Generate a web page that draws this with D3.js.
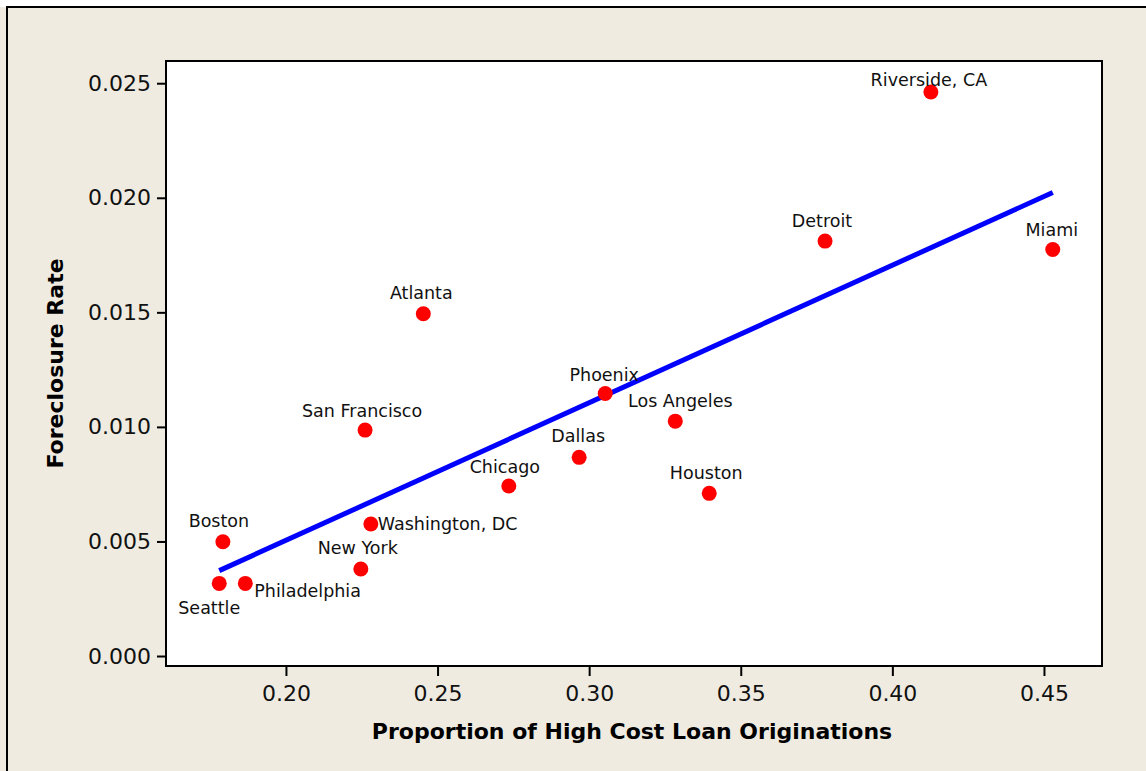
<!DOCTYPE html>
<html>
<head>
<meta charset="utf-8">
<script src="https://cdn.jsdelivr.net/npm/d3@7"></script>
<style>
  body { margin: 0; background: #ffffff; }
  svg { display: block; }
</style>
</head>
<body>
<svg id="chart" width="1146" height="771"></svg>
<script>
// Metro areas and their values
const cities = [
  "Riverside, CA", "Miami", "Detroit", "Atlanta", "Phoenix",
  "Los Angeles", "San Francisco", "Dallas", "Chicago", "Houston",
  "Washington, DC", "Boston", "New York", "Seattle", "Philadelphia"
];
const highCostShare = [
  0.4127, 0.4529, 0.3778, 0.2453, 0.3053,
  0.3284, 0.2261, 0.2967, 0.2735, 0.3396,
  0.2280, 0.1792, 0.2247, 0.1780, 0.1866
];
const foreclosureRate = [
  0.02462, 0.01774, 0.01811, 0.01494, 0.01146,
  0.01025, 0.00986, 0.00867, 0.00742, 0.00710,
  0.00576, 0.00499, 0.00380, 0.00317, 0.00317
];

const xTicks = [0.20, 0.25, 0.30, 0.35, 0.40, 0.45];
const yTicks = [0.000, 0.005, 0.010, 0.015, 0.020, 0.025];
const xTitle = "Proportion of High Cost Loan Originations";
const yTitle = "Foreclosure Rate";

// Axis extents of the data region
const xDomain = [0.16044, 0.46914];
const yDomain = [-0.000436, 0.02597];

// Where each point label sits relative to its dot
const labelPlacement = {
  "Riverside, CA":  { dx: -2, dy: -6,  anchor: "middle" },
  "Miami":          { dx: -1, dy: -14, anchor: "middle" },
  "Detroit":        { dx: -3, dy: -14, anchor: "middle" },
  "Atlanta":        { dx: -2, dy: -15, anchor: "middle" },
  "Phoenix":        { dx: -1, dy: -12, anchor: "middle" },
  "Los Angeles":    { dx: 5,  dy: -14, anchor: "middle" },
  "San Francisco":  { dx: -3, dy: -13, anchor: "middle" },
  "Dallas":         { dx: -1, dy: -15, anchor: "middle" },
  "Chicago":        { dx: -4, dy: -13, anchor: "middle" },
  "Houston":        { dx: -3, dy: -14, anchor: "middle" },
  "Washington, DC": { dx: 7,  dy: 6,   anchor: "start" },
  "Boston":         { dx: -4, dy: -15, anchor: "middle" },
  "New York":       { dx: -3, dy: -15, anchor: "middle" },
  "Seattle":        { dx: -10, dy: 31, anchor: "middle" },
  "Philadelphia":   { dx: 9,  dy: 14,  anchor: "start" }
};

const W = 1146, H = 771;
const plot = { left: 166, right: 1102, top: 61, bottom: 666 };
const bgColor = "#efebe1";
const font = "'DejaVu Sans', Verdana, sans-serif";

const svg = d3.select("#chart");

// Panel background and its border
svg.append("rect").attr("x", 0).attr("y", 7).attr("width", W).attr("height", H - 7)
  .attr("fill", bgColor);
svg.append("line").attr("x1", 6).attr("x2", W).attr("y1", 7).attr("y2", 7)
  .attr("stroke", "#000").attr("stroke-width", 2);
svg.append("line").attr("x1", 7).attr("x2", 7).attr("y1", 6).attr("y2", H)
  .attr("stroke", "#000").attr("stroke-width", 2);

const x = d3.scaleLinear().domain(xDomain).range([plot.left, plot.right]);
const y = d3.scaleLinear().domain(yDomain).range([plot.bottom, plot.top]);

// Data region
svg.append("rect")
  .attr("x", plot.left).attr("y", plot.top)
  .attr("width", plot.right - plot.left).attr("height", plot.bottom - plot.top)
  .attr("fill", "#ffffff");

// Axes
const xAxis = d3.axisBottom(x).tickValues(xTicks).tickFormat(d3.format(".2f"))
  .tickSize(10).tickPadding(9);
const yAxis = d3.axisLeft(y).tickValues(yTicks).tickFormat(d3.format(".3f"))
  .tickSize(9).tickPadding(6);

const gx = svg.append("g").attr("transform", `translate(0,${plot.bottom})`).call(xAxis);
const gy = svg.append("g").attr("transform", `translate(${plot.left},0)`).call(yAxis);
[gx, gy].forEach(g => {
  g.select(".domain").remove();
  g.selectAll(".tick line").attr("stroke", "#000").attr("stroke-width", 2);
  g.selectAll(".tick text")
    .attr("fill", "#111")
    .style("font-family", font)
    .style("font-size", "22px");
});

// Least-squares fit of foreclosure rate on high cost share
const n = cities.length;
const mx = d3.mean(highCostShare), my = d3.mean(foreclosureRate);
let sxy = 0, sxx = 0;
for (let i = 0; i < n; i++) {
  sxy += (highCostShare[i] - mx) * (foreclosureRate[i] - my);
  sxx += (highCostShare[i] - mx) ** 2;
}
const slope = sxy / sxx;
const intercept = my - slope * mx;
const [xMin, xMax] = d3.extent(highCostShare);
const fit = [xMin, xMax].map(v => [v, intercept + slope * v]);

svg.append("path")
  .datum(fit)
  .attr("d", d3.line().x(d => x(d[0])).y(d => y(d[1])))
  .attr("fill", "none")
  .attr("stroke", "#0000ff")
  .attr("stroke-width", 5)
  .attr("stroke-linecap", "butt");

// Frame around the data region
svg.append("rect")
  .attr("x", plot.left).attr("y", plot.top)
  .attr("width", plot.right - plot.left).attr("height", plot.bottom - plot.top)
  .attr("fill", "none").attr("stroke", "#000").attr("stroke-width", 2);

const rows = cities.map((c, i) => ({ city: c, xv: highCostShare[i], yv: foreclosureRate[i] }));

svg.append("g").selectAll("circle").data(rows).join("circle")
  .attr("cx", d => x(d.xv))
  .attr("cy", d => y(d.yv))
  .attr("r", 7.5)
  .attr("fill", "#ff0000");

svg.append("g").selectAll("text").data(rows).join("text")
  .attr("x", d => x(d.xv) + labelPlacement[d.city].dx)
  .attr("y", d => y(d.yv) + labelPlacement[d.city].dy)
  .attr("text-anchor", d => labelPlacement[d.city].anchor)
  .attr("fill", "#111")
  .style("font-family", font)
  .style("font-size", "17.5px")
  .text(d => d.city);

// Axis titles
svg.append("text")
  .attr("x", (plot.left + plot.right) / 2 - 2)
  .attr("y", 739)
  .attr("text-anchor", "middle")
  .attr("fill", "#000")
  .style("font-family", font)
  .style("font-size", "22px")
  .style("font-weight", "bold")
  .text(xTitle);

svg.append("text")
  .attr("transform", `translate(63,${(plot.top + plot.bottom) / 2}) rotate(-90)`)
  .attr("text-anchor", "middle")
  .attr("fill", "#000")
  .style("font-family", font)
  .style("font-size", "22px")
  .style("font-weight", "bold")
  .text(yTitle);
</script>
</body>
</html>
